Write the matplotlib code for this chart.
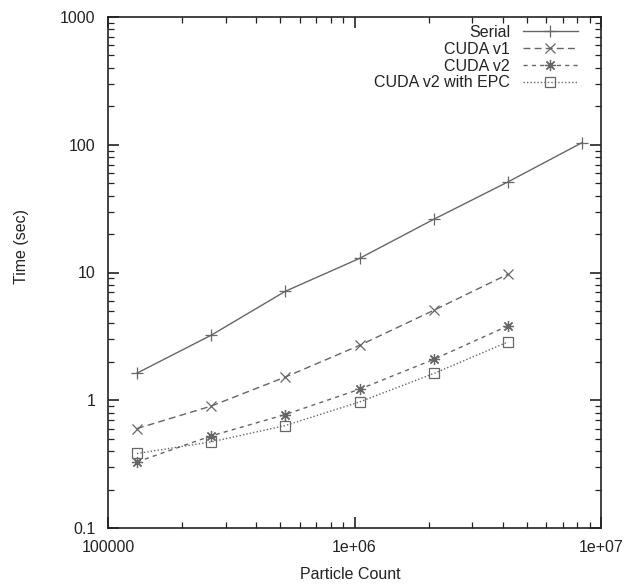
import matplotlib
matplotlib.use("Agg")
import matplotlib.pyplot as plt
from matplotlib.ticker import LogLocator, FixedLocator, FixedFormatter, NullFormatter

plt.rcParams['font.family'] = ['Liberation Sans', 'DejaVu Sans']

particles = [131072, 262144, 524288, 1048576, 2097152, 4194304, 8388608]
serial = [1.63, 3.23, 7.13, 12.9, 26.1, 51.2, 104]
cuda_v1 = [0.60, 0.90, 1.52, 2.69, 5.06, 9.69]
cuda_v2 = [0.329, 0.526, 0.773, 1.22, 2.09, 3.82]
cuda_v2_epc = [0.383, 0.472, 0.634, 0.97, 1.62, 2.86]

labels = ["Serial", "CUDA v1", "CUDA v2", "CUDA v2 with EPC"]
x_ticks = [1e5, 1e6, 1e7]
x_ticklabels = ["100000", "1e+06", "1e+07"]
y_ticks = [0.1, 1, 10, 100, 1000]
y_ticklabels = ["0.1", "1", "10", "100", "1000"]

W, H = 634, 586
fig = plt.figure(figsize=(W / 100, H / 100), dpi=100)
left, right, top, bottom = 108, 601, 17, 528
ax = fig.add_axes([left / W, 1 - bottom / H, (right - left) / W, (bottom - top) / H])

lc = '#666666'
ms = 8
fs = 11.5
ax.plot(particles, serial, color=lc, lw=1.0, ls='-', marker='+', ms=ms, mew=0.9, label=labels[0])
ax.plot(particles[:6], cuda_v1, color=lc, lw=1.0, ls=(0, (5, 3)), marker='x', ms=ms - 1, mew=0.9, label=labels[1])
ax.plot(particles[:6], cuda_v2, color=lc, lw=1.0, ls=(0, (3, 3)), marker=(8, 2, 0), ms=ms, mew=0.9, label=labels[2])
ax.plot(particles[:6], cuda_v2_epc, color=lc, lw=1.0, ls=(0, (1, 1.5)), marker='s', ms=ms - 1,
        mfc='none', mec=lc, mew=0.9, label=labels[3])

ax.set_xscale('log')
ax.set_yscale('log')
ax.set_xlim(1e5, 1e7)
ax.set_ylim(0.1, 1000)

ax.xaxis.set_major_locator(FixedLocator(x_ticks))
ax.xaxis.set_major_formatter(FixedFormatter(x_ticklabels))
ax.yaxis.set_major_locator(FixedLocator(y_ticks))
ax.yaxis.set_major_formatter(FixedFormatter(y_ticklabels))
ax.xaxis.set_minor_locator(LogLocator(base=10, subs=range(2, 10), numticks=20))
ax.yaxis.set_minor_locator(LogLocator(base=10, subs=range(2, 10), numticks=20))
ax.xaxis.set_minor_formatter(NullFormatter())
ax.yaxis.set_minor_formatter(NullFormatter())

ax.tick_params(which='both', direction='in', top=True, right=True, colors='#222222', labelcolor='#222222')
ax.tick_params(which='major', length=8, width=1.2, labelsize=fs, pad=9)
ax.tick_params(which='minor', length=4, width=0.9)
for s in ax.spines.values():
    s.set_linewidth(1.2)
    s.set_color('#222222')

ax.set_xlabel("Particle Count", fontsize=fs, color='#222222')
ax.set_ylabel("Time (sec)", fontsize=fs, color='#222222')
ax.xaxis.set_label_coords(0.491, -0.076)
ax.yaxis.set_label_coords(-0.16, 0.55)

leg = ax.legend(loc='upper right', bbox_to_anchor=(1 - 23 / 493, 1 - 8 / 511), frameon=False,
                markerfirst=False, fontsize=fs, handlelength=3.45, handletextpad=0.8,
                labelspacing=0.11, borderaxespad=0, borderpad=0)
for t in leg.get_texts():
    t.set_color('#222222')

fig.savefig("out.png", dpi=100)
